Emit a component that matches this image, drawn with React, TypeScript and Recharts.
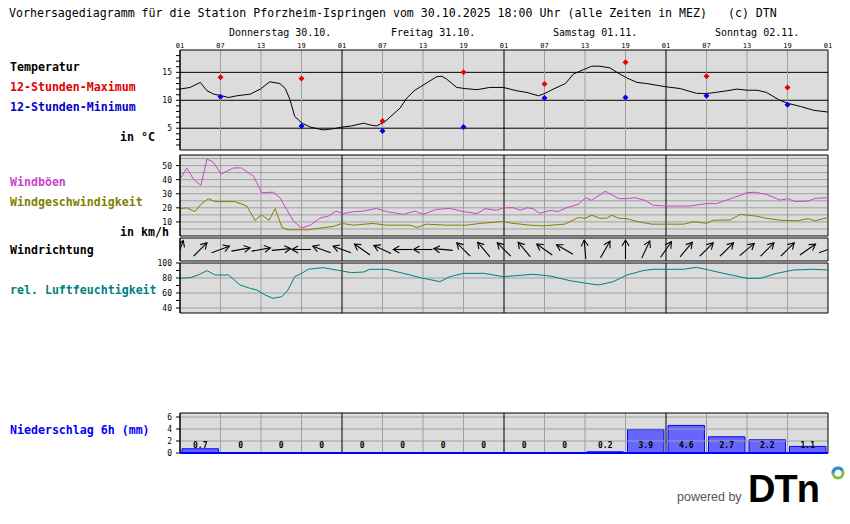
import React from 'react';
import { ComposedChart, Line, Bar, XAxis, YAxis, CartesianGrid, ReferenceLine } from 'recharts';

const MONO = '"DejaVu Sans Mono", monospace';
const W = 850;
const H = 524;
const LEFT = 180;
const RIGHT = 828;
const AXIS_W = 30;
const PAD = 6;
const BG = '#dcdcdc';
const GRID = '#a0a0a0';

// hours counted from Thu 30.10. 01:00 MEZ
const hourTicks = [0, 6, 12, 18, 24, 30, 36, 42, 48, 54, 60, 66, 72, 78, 84, 90, 96];
const hourLabels = ['01', '07', '13', '19'];
const dayLabels = ['Donnerstag 30.10.', 'Freitag 31.10.', 'Samstag 01.11.', 'Sonntag 02.11.'];

const tempHours = [0, 1.5, 3, 4, 5, 6.2, 7.2, 8.4, 10.4, 11.9, 13.3, 14.8, 15.6, 16.3, 17, 18.1, 19.3, 21.2, 22.7, 24, 25.4, 27.2, 28.1, 29.1, 30.4, 32.6, 33.6, 34.8, 36, 38, 38.8, 39.5, 41, 42.2, 44, 45.9, 47.9, 49.9, 51.4, 53.1, 54.1, 55.3, 57.1, 58.3, 59.8, 61, 62.2, 63.7, 65, 66.2, 67.7, 69.1, 70.6, 72.1, 74.1, 76.5, 78, 79.3, 81, 82.5, 84, 85.5, 86.9, 88.7, 89.9, 91.9, 93.9, 96];
const tempValues = [12.0, 12.3, 13.2, 11.7, 11.1, 10.8, 10.5, 10.8, 11.1, 12.0, 13.3, 13.0, 12.1, 10.1, 7.1, 5.9, 5.2, 4.7, 4.9, 5.2, 5.4, 5.9, 5.6, 5.4, 6.2, 8.6, 10.4, 11.8, 12.7, 14.2, 14.3, 13.8, 12.3, 12.1, 11.9, 12.3, 12.3, 11.7, 11.4, 10.8, 11.25, 12.0, 13.0, 14.7, 15.5, 16.1, 16.1, 15.8, 14.8, 14.0, 13.2, 13.0, 12.7, 12.4, 12.1, 11.25, 11.2, 11.4, 11.7, 12.0, 11.8, 11.8, 11.4, 10.1, 9.5, 8.9, 8.2, 7.9];

const extremeHours = [6, 18, 30, 42, 54, 66, 78, 90];
const maxValues = [14.1, 13.9, 6.3, 15.0, 12.9, 16.8, 14.3, 12.3];
const minValues = [10.65, 5.4, 4.5, 5.2, 10.4, 10.5, 10.8, 9.2];

const gustHours = [0, 1, 2, 3.1, 4, 4.9, 6.1, 7.9, 9.1, 10.9, 12.1, 13.8, 14.8, 15.8, 16.8, 18, 19.3, 20.7, 22, 23.1, 24.2, 25.7, 27.2, 29.1, 30.6, 33.1, 34.8, 36, 38, 40, 42, 44, 45.2, 46.9, 47.9, 49.4, 50.4, 51.4, 52.3, 53.3, 54.8, 56, 57.3, 59, 60.1, 61, 63, 65, 66.2, 67.4, 68.9, 70.1, 72.1, 75.6, 78, 79.5, 82, 84, 85.2, 86.9, 88.9, 90.1, 91.1, 93.1, 94.1, 96];
const gustValues = [40.1, 48.3, 40.3, 36, 54.6, 52.5, 44, 48.3, 48.3, 42.4, 30.7, 31.1, 27.2, 18.9, 10.7, 5.6, 7.7, 12.6, 14.2, 17.7, 15.9, 17.3, 17.7, 19.6, 17.3, 15.4, 17.7, 15.4, 18.9, 19.6, 17.3, 15.9, 19.4, 18.2, 20, 20.1, 18.2, 20.1, 19.4, 16.1, 18.2, 17.3, 20.1, 22.5, 27.2, 25.3, 31.8, 26.5, 26.5, 27.2, 25.3, 21.8, 21.3, 21.3, 23, 23, 27.2, 30.7, 31.1, 29.5, 25.5, 26.5, 24.4, 24.9, 26.7, 27.2];

const windHours = [0, 1, 2.2, 3.2, 4.2, 5.2, 8.1, 9.9, 11.1, 12.1, 13.2, 14.1, 15.1, 16, 19, 20.7, 22.7, 24, 25.7, 28.6, 30.6, 34.1, 35.1, 36.5, 39.5, 42.5, 44.4, 47.9, 49.1, 51.8, 53.8, 57, 59, 60, 61, 62.2, 63.2, 64, 65, 66.2, 67.7, 69.9, 74.6, 76.1, 78, 79, 81.5, 83, 85.2, 86.9, 88.9, 91.4, 93.1, 94.1, 96];
const windValues = [19.4, 20, 17.3, 23, 26.5, 24.4, 24.4, 21.3, 11.2, 14.9, 11.2, 19.4, 6.1, 4.4, 4.4, 5.6, 6.8, 8.9, 7.7, 8.9, 7.7, 7.7, 6.1, 8.4, 7.7, 7.7, 8.9, 10.3, 9.1, 7.7, 7.2, 8.4, 13.1, 12.6, 14.7, 12.6, 12.6, 14.7, 12.6, 12.3, 10.3, 8.4, 8.4, 10.1, 9.0, 11.2, 11.4, 15.4, 14.2, 12.6, 11.2, 10.8, 12.3, 10.8, 13.1];

// direction the arrow points to, degrees clockwise from up, every 3 hours
const dirHours = [0, 3, 6, 9, 12, 15, 18, 21, 24, 27, 30, 33, 36, 39, 42, 45, 48, 51, 54, 57, 60, 63, 66, 69, 72, 75, 78, 81, 84, 87, 90, 93, 96];
const dirAngles = [20, 45, 70, 80, 80, 85, 270, 290, 290, 305, 295, 270, 270, 275, 315, 320, 315, 320, 305, 300, 355, 30, 0, 25, 35, 40, 45, 45, 50, 45, 45, 55, 70];

const humHours = [0, 1.5, 2.7, 4, 5.2, 7.2, 8.9, 10.4, 11.4, 12.6, 13.8, 15.1, 16, 17, 18, 19, 21.2, 24, 25.4, 27.2, 28.1, 30.6, 33.1, 35.6, 38.5, 40, 42, 45, 47.9, 52.3, 54.8, 57.8, 60.2, 62, 64.2, 66.2, 68.6, 70.1, 74.6, 76.5, 78.3, 80.5, 84, 86, 88.4, 90.9, 93.9, 96];
const humValues = [79.6, 80.4, 84, 89.8, 84, 84, 70.7, 66.2, 64, 57.3, 52.9, 55.1, 64, 81.8, 86.2, 91.6, 93.8, 89.3, 87.1, 88, 91.6, 91.6, 86.2, 80.4, 75.1, 81.8, 86.2, 86.2, 81.8, 84.9, 82.7, 76.4, 72.9, 70.7, 75.1, 84, 89.8, 91.6, 91.6, 94.2, 90.7, 86.2, 79.6, 79.6, 86.2, 90.7, 91.6, 90.7];

// 6h precipitation, slots 01-07, 07-13, ...
const rainMid = [3, 9, 15, 21, 27, 33, 39, 45, 51, 57, 63, 69, 75, 81, 87, 93];
const rainValues = [0.7, 0, 0, 0, 0, 0, 0, 0, 0, 0, 0.2, 3.9, 4.6, 2.7, 2.2, 1.1];

const tempData = tempHours.map((h, i) => ({ h, v: tempValues[i] }));
const maxData = extremeHours.map((h, i) => ({ h, v: maxValues[i] }));
const minData = extremeHours.map((h, i) => ({ h, v: minValues[i] }));
const gustData = gustHours.map((h, i) => ({ h, v: gustValues[i] }));
const windData = windHours.map((h, i) => ({ h, v: windValues[i] }));
const dirData = dirHours.map((h, i) => ({ h, v: 0, a: dirAngles[i] }));
const humData = humHours.map((h, i) => ({ h, v: humValues[i] }));
const rainData = rainMid.map((h, i) => ({ h, p: rainValues[i], base: 0 }));

const vLines = () =>
  hourTicks.map((h) => (
    <ReferenceLine key={'v' + h} x={h} stroke={h % 24 === 0 ? '#000' : GRID} strokeWidth={1} />
  ));

const hourTick = (p: any) => (
  <text x={p.x} y={PAD + 10} textAnchor="middle" fontSize={7} fontFamily={MONO} fill="#000">
    {hourLabels[(p.payload.value / 6) % 4]}
  </text>
);

const valueTick = (labels: number[]) => (p: any) =>
  labels.includes(p.payload.value) ? (
    <text x={p.x} y={p.y} dy={3} textAnchor="end" fontSize={8} fontFamily={MONO} fill="#000">
      {p.payload.value}
    </text>
  ) : (
    <g />
  );

const diamond = (color: string) => (p: any) => (
  <polygon
    key={'d' + p.index}
    points={`${p.cx},${p.cy - 3} ${p.cx + 3},${p.cy} ${p.cx},${p.cy + 3} ${p.cx - 3},${p.cy}`}
    fill={color}
  />
);

function arrowDot(p: any) {
  const a = (p.payload.a * Math.PI) / 180;
  const half = 9.5;
  const head = 7;
  const s = Math.PI / 6;
  const hx = p.cx + Math.sin(a) * half;
  const hy = p.cy - Math.cos(a) * half;
  const tx = p.cx - Math.sin(a) * half;
  const ty = p.cy + Math.cos(a) * half;
  const w1x = hx - Math.sin(a - s) * head;
  const w1y = hy + Math.cos(a - s) * head;
  const w2x = hx - Math.sin(a + s) * head;
  const w2y = hy + Math.cos(a + s) * head;
  return (
    <g key={'a' + p.index} stroke="#000" strokeWidth={1.1} fill="none">
      <line x1={tx} y1={ty} x2={hx} y2={hy} />
      <polyline points={`${w1x},${w1y} ${hx},${hy} ${w2x},${w2y}`} />
    </g>
  );
}

// amount printed in each 6h slot, on the zero line
const rainLabel = (p: any) => (
  <text key={'r' + p.index} x={p.cx} y={p.cy - 5} textAnchor="middle" fontSize={8} fontWeight="bold" fontFamily={MONO} fill="#000">
    {String(p.payload.p)}
  </text>
);

function Panel(props: {
  top: number;
  height: number;
  domain: [number, number];
  grid: number[];
  gridColor: string;
  ticks: number[];
  labels: number[];
  topAxis?: boolean;
  data?: any[];
  children?: React.ReactNode;
}) {
  const { top, height, domain, grid, gridColor, ticks, labels, topAxis, data, children } = props;
  const extra = topAxis ? 12 : 0;
  const total = height + extra + 2 * PAD;
  return (
    <div style={{ position: 'absolute', left: 0, top: top - extra - PAD, width: W, height: total }}>
      <ComposedChart
        width={W}
        height={total}
        margin={{ top: topAxis ? 0 : PAD, right: W - RIGHT, bottom: PAD, left: LEFT - AXIS_W }}
        data={data}
      >
        <CartesianGrid fill={BG} stroke="none" horizontal={false} vertical={false} />
        <XAxis
          type="number"
          dataKey="h"
          domain={[0, 96]}
          ticks={hourTicks}
          interval={0}
          orientation="top"
          hide={!topAxis}
          height={extra + PAD}
          axisLine={false}
          tickLine={false}
          tick={hourTick}
          allowDataOverflow
        />
        <YAxis
          type="number"
          domain={domain}
          ticks={ticks}
          interval={0}
          width={AXIS_W}
          tickSize={4}
          tickMargin={4}
          axisLine={{ stroke: '#000' }}
          tickLine={{ stroke: '#000' }}
          tick={valueTick(labels)}
          allowDataOverflow
        />
        {grid.map((v) => (
          <ReferenceLine key={'g' + v} y={v} stroke={gridColor} />
        ))}
        {vLines()}
        <ReferenceLine y={domain[0]} stroke="#000" />
        <ReferenceLine y={domain[1]} stroke="#000" />
        {children}
      </ComposedChart>
    </div>
  );
}

const sideLabels = [
  { text: 'Temperatur', color: '#000', x: 10, y: 67 },
  { text: '12-Stunden-Maximum', color: '#e00000', x: 10, y: 87 },
  { text: '12-Stunden-Minimum', color: '#0000cc', x: 10, y: 107 },
  { text: 'in °C', color: '#000', x: 120, y: 137 },
  { text: 'Windböen', color: '#cc44cc', x: 10, y: 182 },
  { text: 'Windgeschwindigkeit', color: '#808000', x: 10, y: 202 },
  { text: 'in km/h', color: '#000', x: 120, y: 232 },
  { text: 'Windrichtung', color: '#000', x: 10, y: 250 },
  { text: 'rel. Luftfeuchtigkeit', color: '#008080', x: 10, y: 290 },
  { text: 'Niederschlag 6h (mm)', color: '#0000ff', x: 10, y: 430 },
];

export default function App() {
  return (
    <div style={{ position: 'relative', width: W, height: H, background: '#fff', overflow: 'hidden', fontFamily: MONO }}>
      <style>{'body{margin:0}'}</style>

      <div style={{ position: 'absolute', left: 9, top: 6, fontSize: 11.6, lineHeight: '14px', whiteSpace: 'pre', color: '#000' }}>
        {'Vorhersagediagramm für die Station Pforzheim-Ispringen vom 30.10.2025 18:00 Uhr (alle Zeiten in MEZ)   (c) DTN'}
      </div>

      {dayLabels.map((d, i) => (
        <div
          key={d}
          style={{ position: 'absolute', left: LEFT + i * 162 + 49, top: 27, fontSize: 10, lineHeight: '12px', whiteSpace: 'pre', color: '#000' }}
        >
          {d}
        </div>
      ))}

      {sideLabels.map((l) => (
        <div
          key={l.text}
          style={{ position: 'absolute', left: l.x, top: l.y - 5, fontSize: 11.6, lineHeight: '11px', fontWeight: 'bold', whiteSpace: 'pre', color: l.color }}
        >
          {l.text}
        </div>
      ))}

      {/* vertical grid through the gaps and the empty area */}
      <div style={{ position: 'absolute', left: 0, top: 50, width: W, height: 403 }}>
        <ComposedChart width={W} height={403} margin={{ top: 0, right: W - RIGHT, bottom: 0, left: LEFT }}>
          <XAxis type="number" dataKey="h" domain={[0, 96]} hide />
          <YAxis type="number" domain={[0, 1]} hide />
          {vLines()}
        </ComposedChart>
      </div>

      <Panel top={50} height={100} domain={[1.1, 19]} grid={[5, 10, 15]} gridColor="#000"
        ticks={[2, 3, 4, 5, 6, 7, 8, 9, 10, 11, 12, 13, 14, 15, 16, 17, 18]} labels={[5, 10, 15]} topAxis>
        <Line data={tempData} dataKey="v" type="linear" stroke="#000" strokeWidth={1} dot={false} activeDot={false} isAnimationActive={false} />
        <Line data={maxData} dataKey="v" stroke="none" dot={diamond('#ee0000')} activeDot={false} isAnimationActive={false} />
        <Line data={minData} dataKey="v" stroke="none" dot={diamond('#0000ee')} activeDot={false} isAnimationActive={false} />
      </Panel>

      <Panel top={155} height={81} domain={[0, 57.5]} grid={[5, 10, 15, 20, 25, 30, 35, 40, 45, 50, 55]} gridColor={GRID}
        ticks={[10, 20, 30, 40, 50]} labels={[10, 20, 30, 40, 50]}>
        <Line data={gustData} dataKey="v" type="linear" stroke="#cc44cc" strokeWidth={1} dot={false} activeDot={false} isAnimationActive={false} />
        <Line data={windData} dataKey="v" type="linear" stroke="#808000" strokeWidth={1} dot={false} activeDot={false} isAnimationActive={false} />
      </Panel>

      <Panel top={238} height={23} domain={[-1, 1]} grid={[]} gridColor={GRID} ticks={[]} labels={[]}>
        <Line data={dirData} dataKey="v" stroke="none" dot={arrowDot} activeDot={false} isAnimationActive={false} />
      </Panel>

      <Panel top={263} height={50} domain={[33.3, 100]} grid={[40, 60, 80]} gridColor={GRID}
        ticks={[40, 50, 60, 70, 80, 90, 100]} labels={[40, 60, 80, 100]}>
        <Line data={humData} dataKey="v" type="linear" stroke="#008080" strokeWidth={1} dot={false} activeDot={false} isAnimationActive={false} />
      </Panel>

      <Panel top={413} height={40} domain={[0, 6.67]} grid={[2, 4, 6]} gridColor={GRID}
        ticks={[0, 2, 4, 6]} labels={[0, 2, 4, 6]} data={rainData}>
        <Bar dataKey="p" barSize={40.5} fill="#6666ff" stroke="#0000ff" strokeWidth={1} isAnimationActive={false} />
        <ReferenceLine y={0} stroke="#0000ff" strokeWidth={2} />
        <Line dataKey="base" stroke="none" dot={rainLabel} activeDot={false} isAnimationActive={false} />
      </Panel>

      <svg style={{ position: 'absolute', left: 0, top: 0 }} width={W} height={H}>
        <text x={677} y={501} fontSize={12.5} fontFamily='"Liberation Sans", Arial, sans-serif' fill="#555">powered by</text>
        <text x={748} y={502} fontSize={38} fontWeight="bold" fontFamily='"Liberation Sans", Arial, sans-serif' fill="#000" letterSpacing={-1}>DTn</text>
        <circle cx={838} cy={473} r={5} fill="none" stroke="#7ac143" strokeWidth={3} />
        <path d="M 833 473 A 5 5 0 0 1 842.3 470.5" fill="none" stroke="#2f8fd8" strokeWidth={3} />
      </svg>
    </div>
  );
}
